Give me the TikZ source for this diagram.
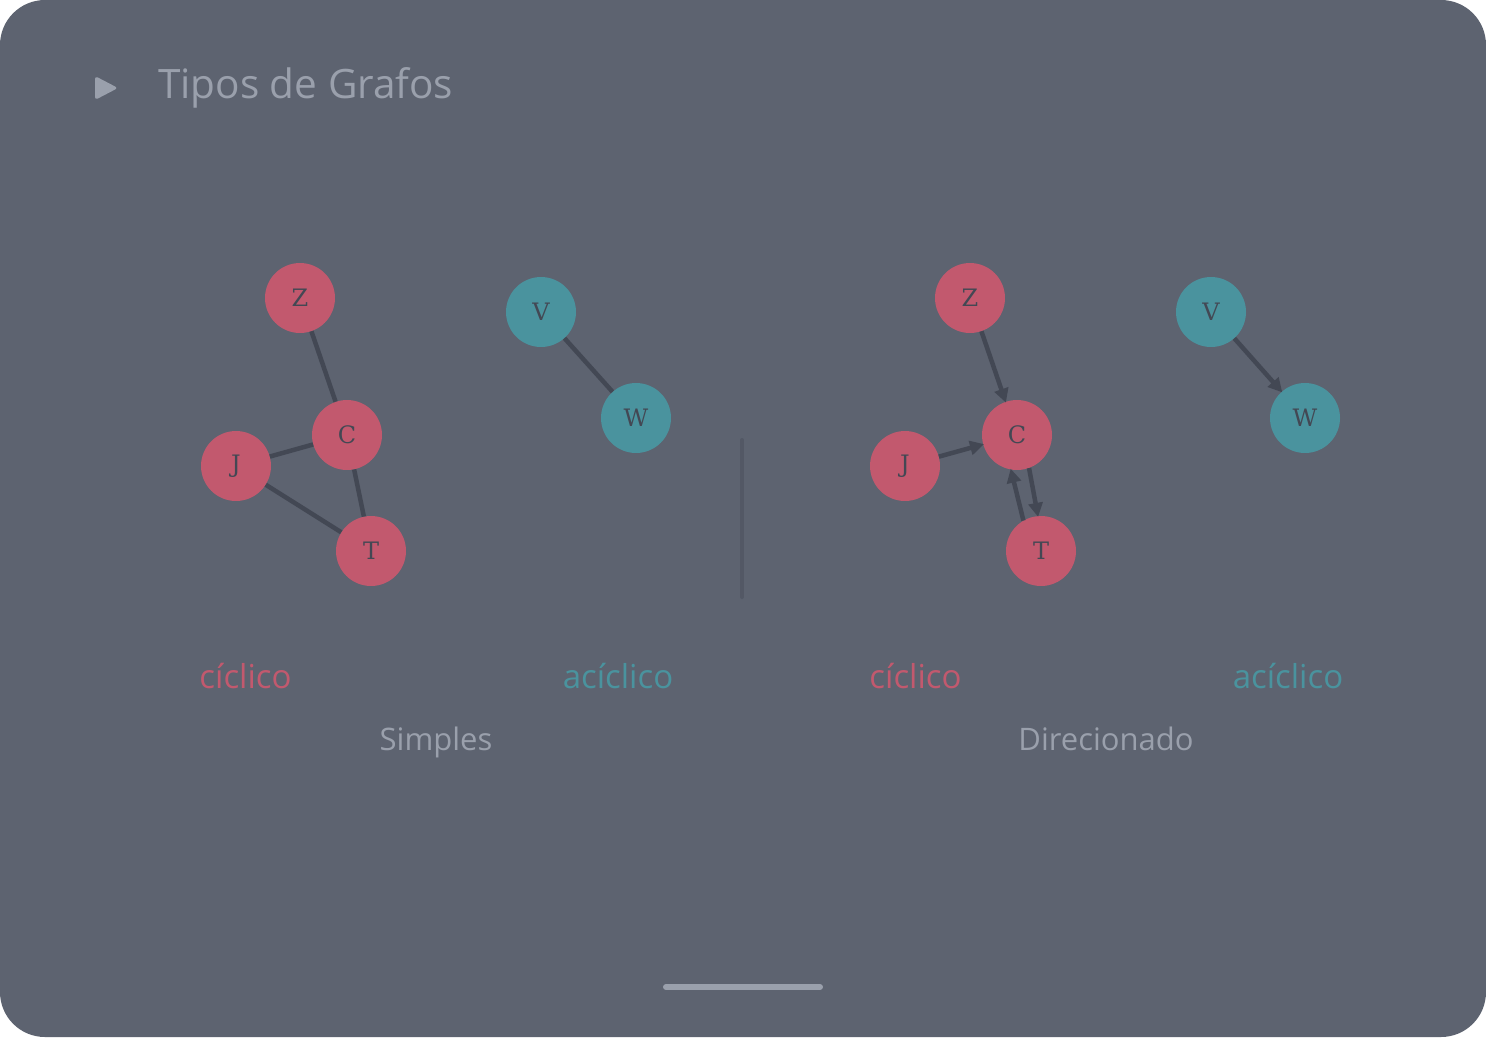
\documentclass[tikz,border=0pt]{standalone}
\usepackage{fontspec}
\setmainfont{Open Sans}
\newfontfamily\nodefont{DejaVu Serif}
\usetikzlibrary{arrows.meta}
\definecolor{bgc}{HTML}{5D6370}
\definecolor{redn}{HTML}{C2596E}
\definecolor{tealn}{HTML}{4A939E}
\definecolor{edgec}{HTML}{434854}
\definecolor{txtc}{HTML}{9AA0AC}
\definecolor{divc}{HTML}{535865}
\tikzset{
  vert/.style={circle, minimum size=70pt, inner sep=0pt, text=edgec, font=\nodefont\fontsize{24}{24}\selectfont},
  rv/.style={vert, fill=redn},
  tv/.style={vert, fill=tealn},
  edg/.style={draw=edgec, line width=4.5pt},
  arr/.style={edg, -{Triangle[length=14pt,width=14pt]}, shorten >=-1pt},
  lbl/.style={font=\fontsize{33}{33}\selectfont, inner sep=0pt, anchor=base},
  captxt/.style={font=\fontsize{31}{31}\selectfont, text=txtc, inner sep=0pt, anchor=base},
}
\begin{document}
\begin{tikzpicture}[x=1pt,y=-1pt]
\fill[white] (0,0) rectangle (1486,1037);
\useasboundingbox (0,0) rectangle (1486,1037);
\fill[bgc, rounded corners=45pt] (0,0) rectangle (1486,1037);
% title
\fill[txtc, rounded corners=3pt] (95,76) -- (118,88) -- (95,100) -- cycle;
\node[anchor=base west, font=\fontsize{40.5}{40.5}\selectfont, text=txtc, inner sep=0pt] (title) at (158,98) {Tipos de Grafos};
% divider and bottom bar
\coordinate (d1) at (742,440); \coordinate (d2) at (742,597);
\draw[divc, line width=4pt, line cap=round] (d1) -- (d2);
\coordinate (b1) at (666,987); \coordinate (b2) at (820,987);
\draw[txtc, line width=6pt, line cap=round] (b1) -- (b2);
% simple cyclic
\node[rv] (z1) at (300,298) {Z};
\node[rv] (c1) at (347,435) {C};
\node[rv] (j1) at (236,466) {J};
\node[rv] (t1) at (371,551) {T};
\draw[edg] (z1) -- (c1);
\draw[edg] (j1) -- (c1);
\draw[edg] (j1) -- (t1);
\draw[edg] (c1) -- (t1);
% simple acyclic
\node[tv] (v1) at (541,312) {V};
\node[tv] (w1) at (636,418) {W};
\draw[edg] (v1) -- (w1);
% directed cyclic
\node[rv] (z2) at (970,298) {Z};
\node[rv] (c2) at (1017,435) {C};
\node[rv] (j2) at (905,466) {J};
\node[rv] (t2) at (1041,551) {T};
\draw[arr] (z2) -- (c2);
\draw[arr] (j2) -- (c2);
\draw[arr] (c2.-70) -- (t2.95);
\draw[arr] (t2.120) -- (c2.-100);
% directed acyclic
\node[tv] (v2) at (1211,312) {V};
\node[tv] (w2) at (1305,418) {W};
\draw[arr] (v2) -- (w2);
% labels
\node[lbl, text=redn] (l1) at (245.5,688) {cíclico};
\node[lbl, text=tealn] (l2) at (618,688) {acíclico};
\node[lbl, text=redn] (l3) at (915.5,688) {cíclico};
\node[lbl, text=tealn] (l4) at (1288,688) {acíclico};
\node[captxt] (s1) at (436,750) {Simples};
\node[captxt] (s2) at (1106,750) {Direcionado};
\end{tikzpicture}
\end{document}
